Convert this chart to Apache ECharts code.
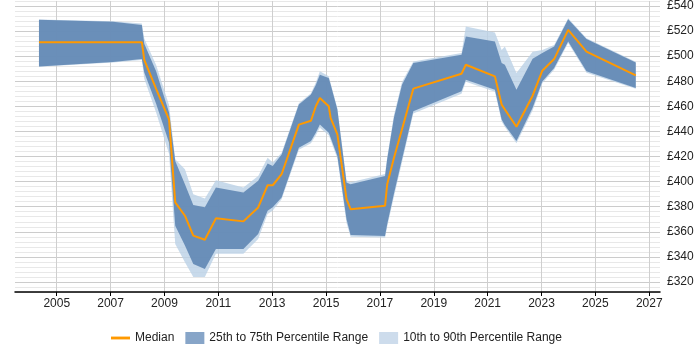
<!DOCTYPE html>
<html>
<head>
<meta charset="utf-8">
<script src="https://cdn.jsdelivr.net/npm/echarts@6/dist/echarts.min.js"></script>
<style>
  html, body { margin: 0; padding: 0; background: #fff; }
  #chart { width: 700px; height: 350px; }
</style>
</head>
<body>
<div id="chart"></div>
<script>
// decimal years of each sample
const years = [2004.34, 2007.09, 2008.16, 2008.25, 2008.69, 2009.17, 2009.4, 2009.76, 2010.07, 2010.5,
  2010.91, 2011.93, 2012.48, 2012.83, 2013.02, 2013.35, 2013.99, 2014.44, 2014.62, 2014.77,
  2015.1, 2015.17, 2015.42, 2015.76, 2015.91, 2017.19, 2017.27, 2017.52, 2017.82, 2018.24,
  2020.03, 2020.19, 2021.27, 2021.52, 2021.64, 2022.07, 2022.67, 2023.03, 2023.47, 2023.99,
  2024.67, 2026.5];

const median = [511.2, 511.2, 511.2, 497, 474, 449.5, 383.4, 372.8, 356.9, 353.7,
  370.7, 368.3, 379.4, 397.1, 397.1, 405.9, 445.4, 448.5, 460.1, 466.7,
  460.1, 450.9, 437.6, 386, 378, 380.7, 397.9, 418.8, 441.7, 474.1,
  486, 493.2, 483.9, 461.4, 457.5, 443.7, 468.5, 488.4, 497.7, 521,
  503.7, 484.7];

const p10 = [491.5, 495, 497, 482, 455, 422, 350.3, 335.8, 323.9, 323.9,
  342.4, 342.4, 354.3, 374.1, 377, 386, 425.5, 430.5, 437, 443,
  437, 433, 418.5, 367, 356, 355.5, 364, 388, 415.5, 454.3,
  470, 479.7, 471.7, 448, 443.5, 430.5, 456.7, 478.5, 489.2, 510.6,
  486.8, 474];

const p25 = [491.8, 495.3, 497.7, 487, 462, 431, 364.8, 349, 334.4, 330.4,
  346.3, 346.3, 358.3, 376.8, 379.5, 387.4, 427, 432.3, 439, 445.6,
  439, 435, 420.4, 370, 357.5, 356.7, 366, 390.3, 417.8, 456.1,
  472, 481.3, 473.3, 449.5, 445, 432.3, 458.8, 479.9, 490.6, 511.7,
  487.9, 474.7];

const p75 = [529.1, 527.5, 524.9, 510, 488, 455, 416.4, 397.9, 381.3, 379.5,
  395.3, 391.3, 400.6, 414.4, 412.5, 421.7, 461.4, 469.4, 477, 485.2,
  482.6, 477.5, 457.5, 399.3, 397.9, 404.5, 417.8, 451, 477.3, 494.5,
  501.1, 515.6, 511.7, 494.5, 493.2, 473.3, 498, 502.5, 507.7, 529.4,
  513.6, 495];

const p90 = [529.3, 527.8, 526.1, 514, 493, 461, 417.8, 409.8, 390, 386.6,
  401.1, 395.3, 404.5, 419.1, 415.2, 423, 462.5, 470.5, 479, 487.9,
  483.9, 478.5, 458.5, 401, 399.5, 406, 419.5, 453, 479.5, 495.8,
  502.5, 523.6, 518.8, 505, 507.7, 486.6, 503.5, 505, 509, 530.2,
  514.2, 495.5];

const yearTicks = [2005, 2007, 2009, 2011, 2013, 2015, 2017, 2019, 2021, 2023, 2025, 2027];

const font = 'Liberation Sans, Arial, sans-serif';

// band between two percentile arrays, drawn as one polygon through the axes
const bandSeries = (name, lo, hi, color, z) => ({
  name: name,
  type: 'custom',
  data: years.map((y, i) => [y, lo[i], hi[i]]),
  encode: { x: 0, y: [1, 2] },
  silent: true,
  z: z,
  itemStyle: { color: color },
  renderItem: (params, api) => {
    if (params.dataIndex !== 0) return;
    const top = years.map((y, i) => api.coord([y, hi[i]]));
    const bottom = years.map((y, i) => api.coord([y, lo[i]])).reverse();
    return {
      type: 'polygon',
      shape: { points: top.concat(bottom) },
      style: { fill: color, stroke: null }
    };
  }
});

const chart = echarts.init(document.getElementById('chart'));

const option = {
  animation: false,
  grid: { left: 15, right: 40, top: 0, height: 292 },
  xAxis: {
    type: 'value',
    min: 2003.45,
    max: 2027.4,
    axisLine: { show: true, onZero: false, lineStyle: { color: '#000', width: 1.5 } },
    axisTick: { show: true, length: 4, customValues: yearTicks, lineStyle: { color: '#000' } },
    axisLabel: {
      customValues: yearTicks,
      color: '#222',
      fontFamily: font,
      fontSize: 12,
      margin: 6,
      formatter: (v) => String(v)
    },
    splitLine: { show: true, lineStyle: { color: '#cfcfcf', width: 1 } }
  },
  yAxis: {
    type: 'value',
    position: 'right',
    min: 312,
    max: 544,
    interval: 4,
    axisLine: { show: false },
    axisTick: { show: false },
    axisLabel: {
      color: '#222',
      fontFamily: font,
      fontSize: 12,
      margin: 7,
      formatter: (v) => (v % 20 === 0 ? '£' + v : '')
    },
    splitLine: {
      show: true,
      // every fifth line (multiples of 20) is darker
      lineStyle: { color: ['#e8e8e8', '#e8e8e8', '#cccccc', '#e8e8e8', '#e8e8e8'], width: 1 }
    }
  },
  legend: {
    left: 106,
    top: 327,
    itemGap: 11,
    itemWidth: 19,
    itemHeight: 12,
    textStyle: { color: '#222', fontFamily: font, fontSize: 12 },
    data: [
      { name: 'Median', icon: 'path://M0,0 L20,0 L20,3 L0,3 Z', itemStyle: { color: '#ff9900' } },
      { name: '25th to 75th Percentile Range', icon: 'rect', itemStyle: { color: '#87a5c8' } },
      { name: '10th to 90th Percentile Range', icon: 'rect', itemStyle: { color: '#cddcec' } }
    ]
  },
  series: [
    bandSeries('10th to 90th Percentile Range', p10, p90, 'rgba(186,209,230,0.8)', 2),
    bandSeries('25th to 75th Percentile Range', p25, p75, 'rgba(91,130,176,0.85)', 3),
    {
      name: 'Median',
      type: 'line',
      data: years.map((y, i) => [y, median[i]]),
      showSymbol: false,
      symbol: 'none',
      lineStyle: { color: '#ff9900', width: 2 },
      itemStyle: { color: '#ff9900' },
      z: 5
    }
  ]
};

chart.setOption(option);
</script>
</body>
</html>
